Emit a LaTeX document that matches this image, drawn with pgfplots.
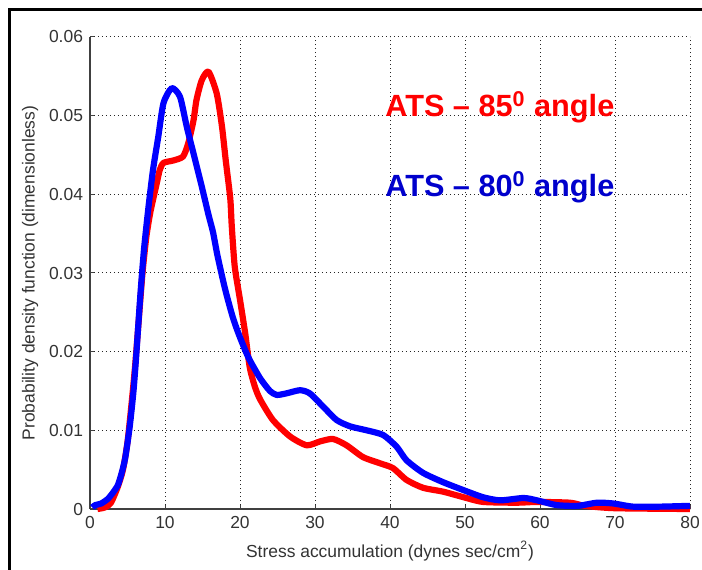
\documentclass[border=0pt]{standalone}
\usepackage{fontspec}
\setmainfont{Liberation Sans}
\usepackage{pgfplots}
\pgfplotsset{compat=1.18}
\definecolor{lineRed}{RGB}{255,0,0}
\definecolor{lineBlue}{RGB}{0,0,255}
\definecolor{txtBlue}{RGB}{0,0,204}
\definecolor{axGray}{RGB}{64,64,64}

\begin{document}
\begin{tikzpicture}
\useasboundingbox (-45bp,-30.5bp) rectangle (306bp,254.5bp);
% figure frame (only left and top edges show)
\draw[line width=1.5bp, black] (-40bp,-31bp) -- (-40bp,249.5bp) -- (307bp,249.5bp);
\begin{axis}[
  at={(0,0)}, anchor=south west,
  scale only axis,
  width=300bp, height=236bp,
  xmin=0, xmax=80, ymin=0, ymax=0.06,
  xtick={0,10,...,80},
  ytick={0,0.01,0.02,0.03,0.04,0.05,0.06},
  yticklabels={0,0.01,0.02,0.03,0.04,0.05,0.06},
  scaled y ticks=false,
  /pgf/number format/assume math mode=true,
  axis x line*=bottom, axis y line*=left,
  axis line style={axGray, line width=0.6bp, -},
  tick align=inside, major tick length=2bp,
  tick style={axGray, line width=0.5bp},
  ticklabel style={font=\fontsize{8.75}{10}\selectfont, text=axGray!80!black},
  xmajorgrids, ymajorgrids,
  grid style={black!85, line width=0.5bp, dash pattern=on 0.5bp off 1.5bp},
  xlabel={Stress accumulation (dynes sec/cm\textsuperscript{2})},
  ylabel={Probability density function (dimensionless)},
  label style={font=\fontsize{8.75}{10}\selectfont, text=axGray!80!black},
  xlabel style={at={(axis description cs:0.5,-0.089)}, anchor=center},
  ylabel style={at={(axis description cs:-0.1,0.5)}, anchor=center},
  clip=false,
]
% ATS 85 deg
\addplot[lineRed, line width=3.1bp, line join=round, smooth, tension=0.4] coordinates {
  (1.0,0.0000) (2.0,0.0002) (2.8,0.0008) (3.7,0.0028) (4.4,0.0050)
  (5.0,0.0085) (5.5,0.0130) (6.0,0.0180) (6.5,0.0240) (7.0,0.0300)
  (7.5,0.0345) (8.0,0.0375) (8.4,0.0393) (8.9,0.0414) (9.3,0.0431)
  (9.8,0.0440) (11.1,0.0443) (12.4,0.0448) (13.1,0.0465) (13.8,0.0494)
  (14.2,0.0520) (14.9,0.0545) (15.8,0.0556) (16.9,0.0528) (17.6,0.0486)
  (18.1,0.0443) (18.7,0.0395) (18.9,0.0360) (19.3,0.0308) (20.0,0.0266)
  (20.7,0.0223) (21.3,0.0180) (22.0,0.0155) (22.7,0.0139) (24.4,0.0113)
  (26.7,0.0092) (28.9,0.0081) (30.7,0.0086) (32.4,0.0089) (34.2,0.0081)
  (36.4,0.0066) (38.7,0.0058) (40.4,0.0052) (42.2,0.0037) (44.4,0.0027)
  (47.1,0.0022) (49.8,0.0015) (52.4,0.0009) (56.9,0.0008) (59.6,0.0009)
  (64.0,0.0008) (66.0,0.0004) (70.0,0.0001) (80.0,0.0000)
};
% ATS 80 deg
\addplot[lineBlue, line width=3.1bp, line join=round, smooth, tension=0.4] coordinates {
  (0.3,0.0002) (0.7,0.0005) (1.5,0.0007) (2.4,0.0013) (3.0,0.0020)
  (3.7,0.0030) (4.2,0.0045) (4.7,0.0065) (5.3,0.0105) (5.8,0.0150)
  (6.2,0.0200) (6.7,0.0270) (7.2,0.0330) (7.8,0.0384) (8.4,0.0431)
  (9.1,0.0473) (9.8,0.0516) (10.9,0.0535) (12.0,0.0524) (12.9,0.0486)
  (13.8,0.0452) (14.9,0.0410) (15.8,0.0374) (16.4,0.0352) (17.0,0.0322)
  (18.0,0.0280) (19.0,0.0245) (19.8,0.0223) (21.1,0.0193) (22.7,0.0166)
  (24.0,0.0150) (24.9,0.0145) (26.2,0.0147) (28.0,0.0151) (29.3,0.0147)
  (31.1,0.0130) (32.9,0.0113) (34.7,0.0105) (36.9,0.0100) (39.1,0.0094)
  (40.9,0.0079) (42.2,0.0062) (44.4,0.0046) (47.1,0.0034) (49.8,0.0024)
  (52.4,0.0015) (54.7,0.0011) (57.8,0.0014) (59.6,0.0011) (62.2,0.0005)
  (65.0,0.0004) (67.6,0.0008) (69.8,0.0007) (72.4,0.0003) (76.0,0.0003)
  (80.0,0.0004)
};
\node[anchor=base west, inner sep=0pt, text=lineRed,
  font=\fontsize{15.4}{18}\selectfont\bfseries]
  at (axis cs:39.33,0.04985) {ATS – 85\textsuperscript{0} angle};
\node[anchor=base west, inner sep=0pt, text=txtBlue,
  font=\fontsize{15.4}{18}\selectfont\bfseries]
  at (axis cs:39.33,0.0397) {ATS – 80\textsuperscript{0} angle};
\end{axis}
\end{tikzpicture}
\end{document}
